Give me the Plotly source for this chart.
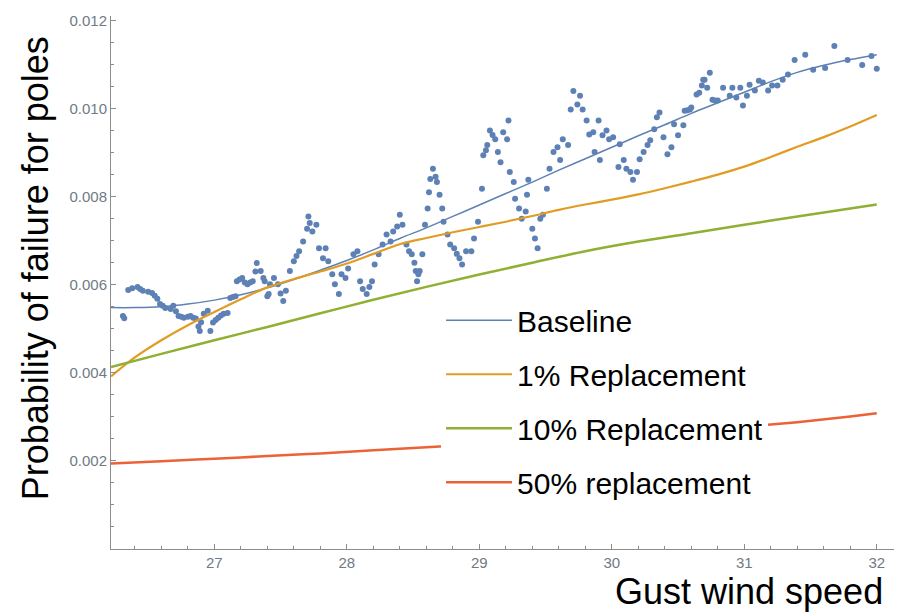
import plotly.graph_objects as go

# ---------------- data ----------------
# scattered baseline simulation points (gust speed, probability in per-mille)
pts_x = [26.31, 26.32, 26.35, 26.38, 26.42, 26.44, 26.46, 26.50, 26.53, 26.55, 26.57, 26.59, 26.61, 26.63,
         26.67, 26.69, 26.71, 26.73, 26.75, 26.77, 26.80, 26.82, 26.84, 26.86, 26.88, 26.89, 26.90, 26.92,
         26.95, 26.97, 26.99, 27.01, 27.03, 27.05, 27.07, 27.10, 27.12, 27.14, 27.16, 27.17, 27.19, 27.21,
         27.23, 27.25, 27.27, 27.29, 27.31, 27.32, 27.35, 27.37, 27.38, 27.40, 27.41, 27.42, 27.45, 27.48,
         27.50, 27.52, 27.54, 27.57, 27.60, 27.62, 27.64, 27.67, 27.70, 27.71, 27.72, 27.74, 27.77, 27.79,
         27.82, 27.84, 27.86, 27.89, 27.91, 27.94, 27.96, 27.99, 28.01, 28.05, 28.08, 28.10, 28.12, 28.15,
         28.17, 28.19, 28.21, 28.24, 28.27, 28.30, 28.33, 28.35, 28.38, 28.40, 28.42, 28.45, 28.47, 28.49,
         28.51, 28.52, 28.53, 28.54, 28.55, 28.57, 28.59, 28.61, 28.62, 28.63, 28.65, 28.67, 28.68, 28.70,
         28.72, 28.73, 28.76, 28.78, 28.81, 28.83, 28.85, 28.87, 28.90, 28.94, 28.96, 28.99, 29.02, 29.03,
         29.05, 29.06, 29.08, 29.10, 29.12, 29.14, 29.16, 29.18, 29.21, 29.22, 29.23, 29.26, 29.27, 29.30,
         29.32, 29.35, 29.36, 29.37, 29.40, 29.42, 29.44, 29.46, 29.48, 29.51, 29.53, 29.56, 29.59, 29.61,
         29.63, 29.67, 29.69, 29.71, 29.74, 29.76, 29.78, 29.81, 29.83, 29.86, 29.87, 29.90, 29.91, 29.93,
         29.96, 29.98, 30.01, 30.05, 30.06, 30.09, 30.11, 30.14, 30.16, 30.19, 30.21, 30.24, 30.27, 30.29,
         30.32, 30.34, 30.36, 30.39, 30.42, 30.45, 30.47, 30.50, 30.54, 30.55, 30.57, 30.59, 30.60, 30.64,
         30.66, 30.68, 30.69, 30.70, 30.72, 30.74, 30.76, 30.78, 30.80, 30.84, 30.89, 30.91, 30.94, 30.97,
         30.99, 31.02, 31.04, 31.08, 31.11, 31.14, 31.18, 31.21, 31.25, 31.29, 31.33, 31.38, 31.46, 31.52,
         31.61, 31.68, 31.78, 31.89, 31.96, 32.00]
pts_y_permille = [5.29, 5.24, 5.88, 5.92, 5.95, 5.90, 5.86, 5.84, 5.81, 5.75, 5.68, 5.56, 5.52, 5.47,
                  5.45, 5.52, 5.40, 5.29, 5.27, 5.25, 5.27, 5.29, 5.25, 5.23, 5.05, 4.95, 5.15, 5.34,
                  5.41, 4.95, 5.14, 5.20, 5.25, 5.30, 5.34, 5.36, 5.70, 5.72, 5.74, 6.08, 6.12, 6.15,
                  6.05, 6.01, 6.05, 6.08, 6.30, 6.49, 6.31, 6.15, 6.08, 5.74, 5.79, 6.01, 6.15, 6.01,
                  5.80, 5.63, 5.86, 6.31, 6.53, 6.65, 6.76, 6.98, 7.27, 7.55, 7.40, 7.21, 7.36, 6.83,
                  6.60, 6.83, 6.53, 6.24, 6.01, 5.79, 6.24, 6.15, 6.37, 6.69, 6.76, 6.08, 5.90, 5.79,
                  5.95, 6.08, 6.46, 6.69, 6.91, 7.14, 6.98, 7.21, 7.32, 7.59, 7.36, 6.91, 6.76, 6.69,
                  6.50, 6.31, 6.08, 6.24, 6.31, 6.69, 7.36, 7.73, 8.10, 8.40, 8.63, 8.45, 8.33, 8.04,
                  7.73, 7.43, 7.14, 6.91, 6.83, 6.70, 6.60, 6.46, 6.76, 6.76, 7.05, 7.43, 8.18, 8.94,
                  9.05, 9.17, 9.50, 9.40, 9.30, 9.01, 8.78, 9.46, 9.30, 9.73, 8.56, 8.33, 7.95, 7.73,
                  7.50, 7.66, 8.04, 8.38, 7.27, 7.05, 6.83, 7.50, 7.59, 8.18, 8.63, 9.01, 9.12, 8.83,
                  9.30, 9.17, 9.98, 10.40, 10.09, 10.29, 9.98, 9.73, 9.41, 9.46, 9.01, 9.73, 8.83, 9.39,
                  9.50, 9.30, 9.35, 8.67, 9.19, 8.83, 8.63, 8.56, 8.38, 8.56, 8.85, 9.01, 9.17, 9.28,
                  9.53, 9.80, 9.91, 9.35, 8.96, 9.12, 9.64, 9.39, 9.62, 9.95, 9.96, 9.98, 10.02, 10.32,
                  10.36, 10.52, 10.65, 10.65, 10.47, 10.81, 10.20, 10.18, 10.18, 10.47, 10.29, 10.47, 10.25, 10.47,
                  10.07, 10.29, 10.54, 10.41, 10.63, 10.59, 10.41, 10.52, 10.52, 10.65, 10.77, 11.10, 11.22, 10.88,
                  10.92, 11.42, 11.10, 10.99, 11.19, 10.90]

# fitted curves (probability in per-mille)
fit_x = [26.22, 26.4, 26.6, 26.8, 27.0, 27.2, 27.4, 27.6, 27.8, 28.0, 28.2, 28.4, 28.6, 28.8, 29.0,
         29.2, 29.4, 29.6, 29.8, 30.0, 30.2, 30.4, 30.6, 30.8, 31.0, 31.2, 31.4, 31.6, 31.8, 32.0]
baseline_fit = [5.48, 5.48, 5.50, 5.56, 5.65, 5.77, 5.93, 6.12, 6.33, 6.55, 6.79, 7.05, 7.29, 7.55, 7.81,
                8.07, 8.33, 8.60, 8.86, 9.12, 9.38, 9.63, 9.89, 10.13, 10.37, 10.61, 10.82, 10.98, 11.11, 11.22]
rep1_fit = [3.92, 4.35, 4.74, 5.08, 5.38, 5.67, 5.94, 6.13, 6.30, 6.48, 6.70, 6.92, 7.06, 7.19, 7.31,
            7.43, 7.56, 7.70, 7.82, 7.93, 8.05, 8.19, 8.34, 8.50, 8.68, 8.90, 9.13, 9.35, 9.59, 9.85]
fit_x2 = [26.22, 26.6, 27.0, 27.4, 27.8, 28.2, 28.6, 29.0, 29.4, 29.8, 30.2, 30.6, 31.0, 31.4, 31.8, 32.0]
rep10_fit = [4.13, 4.43, 4.74, 5.04, 5.35, 5.66, 5.95, 6.23, 6.50, 6.76, 6.98, 7.17, 7.36, 7.55, 7.73, 7.82]
rep50_fit = [1.94, 1.99, 2.05, 2.11, 2.17, 2.24, 2.31, 2.38, 2.45, 2.53, 2.60, 2.68, 2.77, 2.88, 3.01, 3.08]

series_names = ["Baseline", "1% Replacement", "10% Replacement", "50% replacement"]
colors = ["#5E81B5", "#E19C24", "#8FB032", "#EB6235"]
y_tickvals = [0.002, 0.004, 0.006, 0.008, 0.010, 0.012]
x_tickvals = [27, 28, 29, 30, 31, 32]

to_prob = lambda v: [a / 1000.0 for a in v]

FONT = "Liberation Sans, Arial, sans-serif"
fig = go.Figure()

fig.add_trace(go.Scatter(x=pts_x, y=to_prob(pts_y_permille), mode="markers",
                         marker=dict(color=colors[0], size=6), showlegend=False, hoverinfo="skip"))

curves = [(fit_x, baseline_fit, 1.5), (fit_x, rep1_fit, 2.2), (fit_x2, rep10_fit, 2.5), (fit_x2, rep50_fit, 2.5)]
for i, (xs, ys, w) in enumerate(curves):
    fig.add_trace(go.Scatter(x=xs, y=to_prob(ys), mode="lines", name=series_names[i],
                             legendgroup=series_names[i],
                             line=dict(color=colors[i], width=w, shape="spline")))

axis_col = "#8c8c8c"
tick_font = dict(family=FONT, size=15, color="#707a85")
fig.update_xaxes(range=[26.22, 32.13], showline=True, linecolor=axis_col, linewidth=1,
                 showgrid=False, zeroline=False, ticks="inside", ticklen=5, tickcolor=axis_col,
                 tickvals=x_tickvals, tickfont=tick_font,
                 minor=dict(ticks="inside", ticklen=3, dtick=0.2, tick0=27, tickcolor=axis_col, showgrid=False))
fig.update_yaxes(range=[0, 0.0121], showline=True, linecolor=axis_col, linewidth=1,
                 showgrid=False, zeroline=False, ticks="inside", ticklen=5, tickcolor=axis_col,
                 tickvals=y_tickvals, tickformat=".3f", tickfont=tick_font,
                 minor=dict(ticks="inside", ticklen=3, dtick=0.0005, tick0=0, tickcolor=axis_col, showgrid=False))

fig.update_layout(
    width=912, height=613,
    margin=dict(l=111, r=18, t=13, b=64),
    plot_bgcolor="white", paper_bgcolor="white",
    legend=dict(x=0.4215, y=0.478, xanchor="left", yanchor="top", bgcolor="white",
                font=dict(family=FONT, size=30, color="black"), tracegroupgap=12,
                traceorder="grouped", itemwidth=66),
    annotations=[
        dict(text="Probability of failure for poles", textangle=-90, xref="paper", yref="paper",
             x=-0.097, y=0.5266, xanchor="center", yanchor="middle", showarrow=False,
             font=dict(family=FONT, size=36, color="black")),
        dict(text="Gust wind speed", xref="paper", yref="paper", x=0.9885, y=-0.079,
             xanchor="right", yanchor="middle", showarrow=False,
             font=dict(family=FONT, size=36, color="black")),
    ],
)

fig.write_html("out.html")
